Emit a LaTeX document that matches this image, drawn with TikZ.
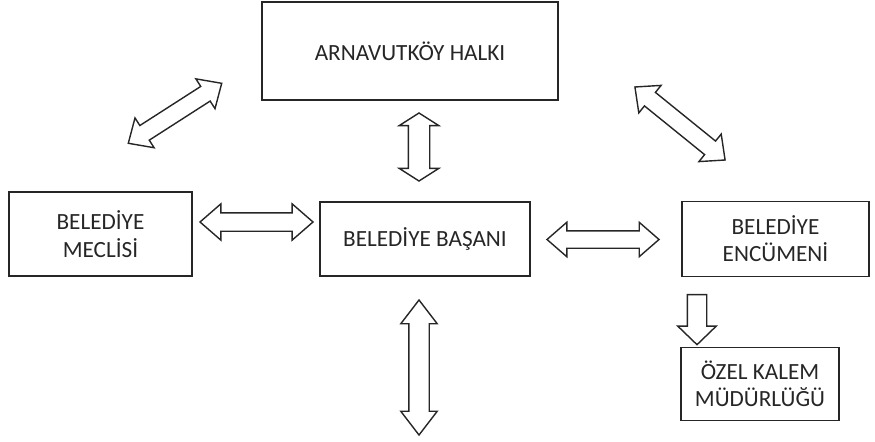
\documentclass[tikz,border=0pt]{standalone}
\usepackage{fontspec}
\setmainfont{Carlito}
\usetikzlibrary{shapes.arrows,positioning}

\tikzset{
  box/.style={draw=black!85, line width=0.9pt, text=black!85, align=center,
              font=\fontsize{13.2}{15.5}\selectfont, inner sep=0pt},
  twoway/.style n args={4}{double arrow, draw=black!85, line width=0.8pt,
              text height=0pt, text depth=0pt, inner xsep=0pt,
              minimum height=#1, inner ysep=#2,
              double arrow head extend=#3, double arrow tip angle=#4},
  oneway/.style n args={4}{single arrow, draw=black!85, line width=0.8pt,
              text height=0pt, text depth=0pt, inner xsep=0pt,
              minimum height=#1, inner ysep=#2,
              single arrow head extend=#3, single arrow tip angle=#4}
}

\begin{document}
\begin{tikzpicture}[node distance=3cm, on grid, auto]
                \useasboundingbox (0,0) rectangle (17.5,-8.84);

                \node[box, minimum width=4.2cm, minimum height=1.48cm] (baskan) at (8.5,-4.78) {BELED\.IYE BAŞANI};
                \node[box, minimum width=5.92cm, minimum height=1.96cm] (halk) [above=3.76cm of baskan, xshift=-0.3cm] {ARNAVUTKÖY HALKI};
                \node[box, minimum width=3.66cm, minimum height=1.68cm] (meclis) [left=6.49cm of baskan, yshift=0.1cm] {BELED\.IYE\\MECL\.IS\.I};
                \node[box, minimum width=3.74cm, minimum height=1.5cm] (encumen) [right=7.01cm of baskan] {BELED\.IYE\\ENCÜMEN\.I};
                \node[box, minimum width=3.16cm, minimum height=1.46cm] (kalem) [below=2.9cm of encumen, xshift=-0.31cm] {ÖZEL KALEM\\MÜDÜRLÜĞÜ};

                % ok isaretleri
                \node[twoway={2.22cm}{0.16cm}{0.18cm}{85}, rotate=32.7] (hm) at (3.5,-2.266) {};
                \node[twoway={2.32cm}{0.16cm}{0.18cm}{85}, rotate=-39] (he) at (13.6,-2.47) {};
                \node[twoway={1.36cm}{0.20cm}{0.18cm}{115}, rotate=90] (hb) at (8.38,-2.94) {};
                \node[twoway={2.7cm}{0.19cm}{0.16cm}{75}, rotate=90] (ba) at (8.38,-7.35) {};
                \node[twoway={2.26cm}{0.17cm}{0.18cm}{82}] (mb) at (5.13,-4.44) {};
                \node[twoway={2.24cm}{0.16cm}{0.17cm}{82}] (be) at (12.06,-4.79) {};
                \node[oneway={1.0cm}{0.18cm}{0.19cm}{92}, rotate=-90] (ek) at (13.94,-6.3) {};
            \end{tikzpicture}
\end{document}
